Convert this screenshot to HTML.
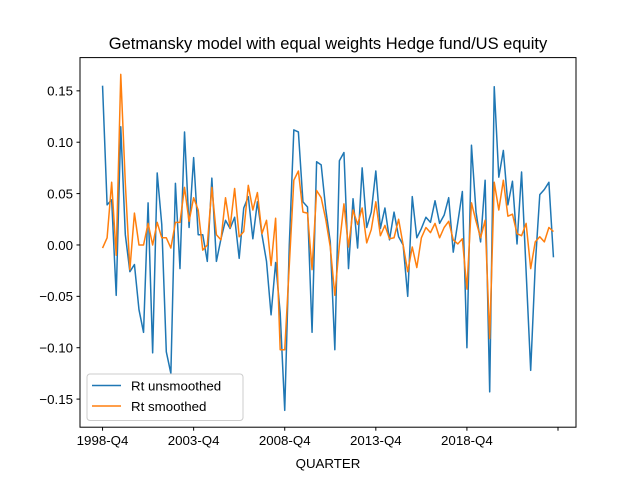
<!DOCTYPE html>
<html><head><meta charset="utf-8"><style>
body{margin:0;background:#fff}
svg text{font-family:"Liberation Sans","DejaVu Sans",sans-serif;fill:#000}
</style></head><body>
<svg id="chart" width="640" height="480" xmlns="http://www.w3.org/2000/svg">
<rect width="640" height="480" fill="#fff"/>
<text x="328" y="49" font-size="16.5" text-anchor="middle">Getmansky model with equal weights Hedge fund/US equity</text>
<g id="series"></g>
<rect x="80" y="57.6" width="496" height="369.6" fill="none" stroke="#000" stroke-width="1"/>
<g id="axes"></g>
<text x="328" y="468" font-size="13.3" text-anchor="middle">QUARTER</text>
<g>
<rect x="87" y="374" width="156" height="46.5" rx="3" fill="#fff" fill-opacity="0.8" stroke="#ccc"/>
<line x1="92" y1="385.5" x2="121" y2="385.5" stroke="#1f77b4" stroke-width="1.5"/>
<text x="131" y="390.5" font-size="13.3">Rt unsmoothed</text>
<line x1="92" y1="406" x2="121" y2="406" stroke="#ff7f0e" stroke-width="1.5"/>
<text x="131" y="411" font-size="13.3">Rt smoothed</text>
</g>
</svg>
<script>
const unsmoothed = [0.155,0.039,0.044,-0.049,0.115,0.01,-0.026,-0.019,-0.063,-0.085,0.041,-0.105,0.07,0.02,-0.104,-0.125,0.06,-0.023,0.11,0.017,0.085,0.01,0.01,-0.016,0.065,
-0.016,0.006,0.024,0.016,0.027,-0.013,0.036,0.047,0.006,0.042,0.01,-0.016,-0.068,-0.017,-0.066,-0.161,0.0,0.112,0.11,0.042,0.037,-0.085,0.081,0.078,
0.035,0.003,-0.102,0.082,0.09,-0.023,0.045,-0.003,0.075,0.017,0.032,0.072,0.016,0.036,0.005,0.032,0.008,0.0,-0.05,0.047,0.007,0.016,0.027,0.022,0.043,
0.021,0.029,0.046,-0.007,0.022,0.052,-0.1,0.097,0.032,0.003,0.063,-0.143,0.154,0.066,0.092,0.039,0.062,0.001,0.071,-0.026,-0.122,-0.02,0.049,0.054,0.061,-0.012];
const smoothed = [-0.003,0.007,0.061,-0.01,0.166,0.06,-0.024,0.031,0,0,0.021,0,0.022,0.007,0.007,-0.003,0.022,0.022,0.056,0.023,0.046,0.034,-0.005,0.0,0.056,
0.01,0.005,0.046,0.017,0.055,0.008,0.013,0.058,0.034,0.051,0.011,0.024,-0.02,0.026,-0.102,-0.102,-0.02,0.063,0.072,0.032,0.031,-0.024,0.053,0.046,
0.025,-0.002,-0.049,0.0,0.04,-0.002,0.034,0.02,0.036,0.002,0.015,0.042,0.009,0.019,0.006,0.007,0.025,0.0,-0.026,-0.002,-0.022,0.007,0.017,0.012,0.021,
0.007,0.017,0.023,0.005,0.001,0.006,-0.043,0.041,0.023,0.007,0.024,-0.091,0.061,0.034,0.063,0.028,0.03,0.011,0.009,0.021,-0.023,0.003,0.008,0.003,0.017,0.013];
const xTickLabels = ["1998-Q4","2003-Q4","2008-Q4","2013-Q4","2018-Q4",""];
const xTickIndex = [0,20,40,60,80,100];
const yTicks = [-0.15,-0.10,-0.05,0.00,0.05,0.10,0.15];

const NS="http://www.w3.org/2000/svg";
const L=80,R=576,T=57.6,B=427.2;
const n=unsmoothed.length;
const all=unsmoothed.concat(smoothed);
const ymin=Math.min(...all),ymax=Math.max(...all);
const ypad=(ymax-ymin)*0.05, xpad=(n-1)*0.05;
const x=i=>L+(i+xpad)/((n-1)+2*xpad)*(R-L);
const y=v=>B-(v-(ymin-ypad))/((ymax-ymin)+2*ypad)*(B-T);

const sg=document.getElementById('series');
function line(data,color,name){
  const p=document.createElementNS(NS,'polyline');
  p.setAttribute('points',data.map((v,i)=>x(i).toFixed(2)+','+y(v).toFixed(2)).join(' '));
  p.setAttribute('fill','none');p.setAttribute('stroke',color);p.setAttribute('stroke-width','1.5');
  p.setAttribute('stroke-linejoin','round');
  
  
  sg.appendChild(p);
}
line(unsmoothed,'#1f77b4','unsmoothed-line');
line(smoothed,'#ff7f0e','smoothed-line');

const ag=document.getElementById('axes');
xTickIndex.forEach((idx,k)=>{
  const t=document.createElementNS(NS,'line');
  t.setAttribute('x1',x(idx));t.setAttribute('x2',x(idx));t.setAttribute('y1',B);t.setAttribute('y2',B+3.5);
  t.setAttribute('stroke','#000');
  
  
  ag.appendChild(t);
  const tx=document.createElementNS(NS,'text');
  tx.setAttribute('x',x(idx));tx.setAttribute('y',B+18);tx.setAttribute('font-size','13.3');tx.setAttribute('text-anchor','middle');
  tx.textContent=xTickLabels[k];
  
  
  ag.appendChild(tx);
});
yTicks.forEach(v=>{
  const t=document.createElementNS(NS,'line');
  t.setAttribute('x1',L-3.5);t.setAttribute('x2',L);t.setAttribute('y1',y(v));t.setAttribute('y2',y(v));
  t.setAttribute('stroke','#000');
  
  
  ag.appendChild(t);
  const tx=document.createElementNS(NS,'text');
  tx.setAttribute('x',L-7);tx.setAttribute('y',y(v)+4.8);tx.setAttribute('font-size','13.3');tx.setAttribute('text-anchor','end');
  tx.textContent=(v<0?'\u2212':'')+Math.abs(v).toFixed(2);
  
  
  ag.appendChild(tx);
});
</script>
</body></html>
